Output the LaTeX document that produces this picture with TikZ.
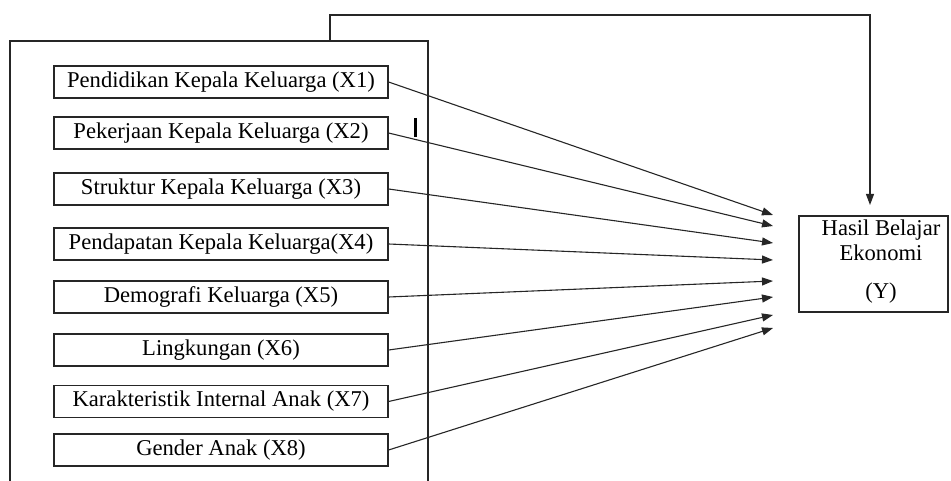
\documentclass[tikz,border=0pt]{standalone}
\usepackage{fontspec}
\setmainfont{Liberation Serif}
\usetikzlibrary{arrows.meta}
\tikzset{
  varbox/.style={draw=black!85, line width=1.2pt, minimum width=334pt, minimum height=32pt, inner sep=0pt, font=\fontsize{22.6}{26}\selectfont},
  ybox/.style={draw=black!85, line width=1.2pt, minimum width=149pt, minimum height=96pt, inner sep=0pt},
  conn/.style={draw=black!85, line width=1.1pt, -{Triangle[length=11pt,width=8pt]}},
  frame/.style={draw=black!85, line width=1.2pt}
}
\begin{document}
\begin{tikzpicture}[x=1pt,y=-1pt]
\useasboundingbox (0,0) rectangle (951,481);
\clip (0,0) rectangle (951,481);
% outer frame (open at bottom)
\coordinate (fbl) at (10,490);
\coordinate (ftl) at (10,41);
\coordinate (ftr) at (428,41);
\coordinate (fbr) at (428,490);
\draw[frame] (fbl) -- (ftl) -- (ftr) -- (fbr);
% variable boxes
\node[varbox] (x1) at (221,82)    {Pendidikan Kepala Keluarga (X1)};
\node[varbox] (x2) at (221,133)   {Pekerjaan Kepala Keluarga (X2)};
\node[varbox] (x3) at (221,189)   {Struktur Kepala Keluarga (X3)};
\node[varbox] (x4) at (221,244)   {Pendapatan Kepala Keluarga(X4)};
\node[varbox] (x5) at (221,297)   {Demografi Keluarga (X5)};
\node[varbox] (x6) at (221,350)   {Lingkungan (X6)};
\node[varbox] (x7) at (221,401.5) {Karakteristik Internal Anak (X7)};
\node[varbox] (x8) at (221,450)   {Gender Anak (X8)};
% result box
\node[ybox] (y) at (873.5,264) {};
\node[font=\fontsize{22.6}{25}\selectfont, align=center, inner sep=0pt] (ytext) at (881,262) {Hasil Belajar\\Ekonomi\\[13pt](Y)};
% arrow end points
\coordinate (t1) at (773,215);
\coordinate (t2) at (773,226);
\coordinate (t3) at (773,243);
\coordinate (t4) at (773,260);
\coordinate (t5) at (773,281);
\coordinate (t6) at (773,297);
\coordinate (t7) at (773,315);
\coordinate (t8) at (773,328);
\draw[conn] (x1.east) -- (t1);
\draw[conn] (x2.east) -- (t2);
\draw[conn] (x3.east) -- (t3);
\draw[conn] (x4.east) -- (t4);
\draw[conn] (x5.east) -- (t5);
\draw[conn] (x6.east) -- (t6);
\draw[conn] (x7.east) -- (t7);
\draw[conn] (x8.east) -- (t8);
% feedback line from frame to result
\coordinate (fs) at (330,41);
\coordinate (fa) at (330,15);
\coordinate (fb) at (870,15);
\coordinate (fe) at (870,205);
\draw[conn] (fs) -- (fa) -- (fb) -- (fe);
% stray mark
\coordinate (m1) at (415,118);
\coordinate (m2) at (415,137);
\draw[line width=3pt] (m1) -- (m2);
\end{tikzpicture}
\end{document}
